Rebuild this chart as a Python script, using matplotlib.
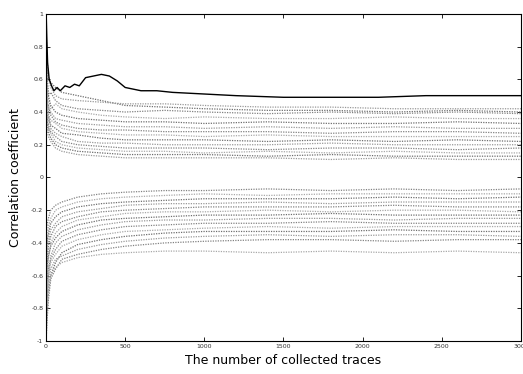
import matplotlib
matplotlib.use('Agg')
import matplotlib.pyplot as plt

# 数据
x_pts = [1, 5, 15, 30, 60, 100, 200, 350, 500, 750, 1000, 1400, 1800, 2200, 2600, 3000]

# 正确密钥曲线（黑色实线）
key_x = [1, 5, 10, 20, 35, 50, 70, 90, 120, 150, 180, 210, 250, 300, 350, 400, 450, 500,
         600, 700, 800, 1000, 1200, 1500, 1800, 2100, 2400, 2700, 3000]
key_y = [1.0, 0.85, 0.7, 0.6, 0.56, 0.53, 0.55, 0.53, 0.56, 0.55, 0.57, 0.56, 0.61, 0.62,
         0.63, 0.62, 0.59, 0.55, 0.53, 0.53, 0.52, 0.51, 0.50, 0.49, 0.49, 0.49, 0.50, 0.50, 0.50]

# 错误密钥曲线（灰色点线）—— 正相关带
upper = [
    [0.95, 0.70, 0.60, 0.58, 0.55, 0.52, 0.50, 0.47, 0.44, 0.43, 0.42, 0.41, 0.41, 0.40, 0.41, 0.40],
    [0.90, 0.75, 0.62, 0.55, 0.50, 0.48, 0.47, 0.46, 0.45, 0.45, 0.44, 0.43, 0.43, 0.42, 0.42, 0.42],
    [0.70, 0.60, 0.50, 0.52, 0.47, 0.44, 0.42, 0.41, 0.40, 0.41, 0.40, 0.39, 0.40, 0.39, 0.40, 0.39],
    [0.85, 0.55, 0.48, 0.42, 0.45, 0.42, 0.40, 0.38, 0.37, 0.36, 0.37, 0.36, 0.36, 0.37, 0.36, 0.36],
    [0.60, 0.65, 0.50, 0.44, 0.40, 0.38, 0.36, 0.35, 0.34, 0.34, 0.33, 0.34, 0.33, 0.33, 0.34, 0.33],
    [0.75, 0.50, 0.42, 0.40, 0.36, 0.35, 0.33, 0.32, 0.31, 0.31, 0.30, 0.31, 0.30, 0.31, 0.30, 0.30],
    [0.50, 0.45, 0.44, 0.38, 0.34, 0.32, 0.30, 0.29, 0.29, 0.28, 0.28, 0.28, 0.27, 0.28, 0.28, 0.27],
    [0.80, 0.60, 0.38, 0.35, 0.33, 0.30, 0.28, 0.27, 0.26, 0.26, 0.25, 0.26, 0.25, 0.25, 0.25, 0.25],
    [0.55, 0.40, 0.36, 0.32, 0.30, 0.27, 0.26, 0.24, 0.23, 0.23, 0.23, 0.22, 0.23, 0.22, 0.23, 0.22],
    [0.65, 0.50, 0.40, 0.30, 0.27, 0.25, 0.22, 0.21, 0.21, 0.20, 0.20, 0.20, 0.21, 0.20, 0.20, 0.20],
    [0.45, 0.38, 0.32, 0.28, 0.25, 0.22, 0.20, 0.19, 0.18, 0.18, 0.18, 0.17, 0.18, 0.18, 0.17, 0.18],
    [0.70, 0.42, 0.30, 0.27, 0.22, 0.20, 0.18, 0.17, 0.16, 0.16, 0.15, 0.16, 0.15, 0.16, 0.15, 0.15],
    [0.40, 0.35, 0.28, 0.24, 0.20, 0.18, 0.16, 0.15, 0.14, 0.14, 0.14, 0.13, 0.14, 0.13, 0.13, 0.13],
    [0.60, 0.30, 0.25, 0.22, 0.18, 0.16, 0.14, 0.13, 0.12, 0.12, 0.12, 0.12, 0.11, 0.12, 0.11, 0.11],
]

# 错误密钥曲线 —— 负相关带
lower = [
    [-0.60, -0.30, -0.25, -0.20, -0.17, -0.15, -0.12, -0.10, -0.09, -0.08, -0.08, -0.07, -0.08, -0.07, -0.08, -0.07],
    [-0.80, -0.45, -0.30, -0.25, -0.20, -0.18, -0.15, -0.13, -0.12, -0.11, -0.10, -0.11, -0.10, -0.10, -0.10, -0.10],
    [-0.50, -0.40, -0.35, -0.28, -0.24, -0.21, -0.18, -0.16, -0.15, -0.14, -0.13, -0.13, -0.13, -0.12, -0.13, -0.12],
    [-0.90, -0.60, -0.40, -0.32, -0.28, -0.24, -0.21, -0.19, -0.17, -0.16, -0.16, -0.15, -0.16, -0.15, -0.15, -0.15],
    [-0.70, -0.50, -0.42, -0.36, -0.30, -0.27, -0.24, -0.21, -0.20, -0.19, -0.18, -0.18, -0.18, -0.17, -0.18, -0.18],
    [-0.95, -0.70, -0.50, -0.40, -0.34, -0.30, -0.26, -0.24, -0.22, -0.21, -0.21, -0.20, -0.21, -0.20, -0.20, -0.21],
    [-0.65, -0.55, -0.48, -0.42, -0.37, -0.33, -0.29, -0.26, -0.25, -0.24, -0.23, -0.23, -0.22, -0.23, -0.23, -0.23],
    [-1.00, -0.80, -0.60, -0.48, -0.40, -0.36, -0.32, -0.29, -0.27, -0.26, -0.26, -0.25, -0.25, -0.26, -0.25, -0.25],
    [-0.85, -0.65, -0.55, -0.50, -0.44, -0.39, -0.35, -0.32, -0.30, -0.29, -0.28, -0.28, -0.27, -0.28, -0.28, -0.28],
    [-0.75, -0.70, -0.60, -0.52, -0.47, -0.42, -0.38, -0.35, -0.33, -0.32, -0.31, -0.30, -0.31, -0.30, -0.30, -0.30],
    [-0.98, -0.85, -0.70, -0.60, -0.52, -0.46, -0.41, -0.38, -0.36, -0.34, -0.33, -0.33, -0.33, -0.32, -0.33, -0.33],
    [-0.90, -0.75, -0.65, -0.56, -0.50, -0.48, -0.44, -0.41, -0.39, -0.37, -0.36, -0.35, -0.36, -0.35, -0.35, -0.36],
    [-1.00, -0.90, -0.75, -0.62, -0.56, -0.50, -0.47, -0.44, -0.42, -0.40, -0.39, -0.38, -0.38, -0.39, -0.38, -0.38],
    [-0.95, -0.80, -0.70, -0.60, -0.55, -0.52, -0.49, -0.47, -0.46, -0.45, -0.45, -0.46, -0.45, -0.46, -0.45, -0.46],
]

x_ticks = [0, 500, 1000, 1500, 2000, 2500, 3000]
y_ticks = [1, 0.8, 0.6, 0.4, 0.2, 0, -0.2, -0.4, -0.6, -0.8, -1]
y_tick_labels = ['1', '0.8', '0.6', '0.4', '0.2', '0', '-0.2', '-0.4', '-0.6', '-0.8', '-1']

# 画布
fig = plt.figure(figsize=(5.23, 3.74), dpi=100)
ax = fig.add_axes([0.088, 0.088, 0.908, 0.875])

grays = ['#6e6e6e', '#999999', '#828282', '#a8a8a8']
for i, ys in enumerate(upper + lower):
    ax.plot(x_pts, ys, color=grays[i % len(grays)], lw=0.9, linestyle=(0, (1, 1)))

ax.plot(key_x, key_y, color='black', lw=1.0)

ax.set_xlim(0, 3000)
ax.set_ylim(-1, 1)
ax.set_xticks(x_ticks)
ax.set_xticklabels([str(t) for t in x_ticks])
ax.set_yticks(y_ticks)
ax.set_yticklabels(y_tick_labels)
ax.tick_params(direction='in', length=3, width=0.6, labelsize=4.5, top=True, right=True, pad=2,
               labelcolor='#333333')
for s in ax.spines.values():
    s.set_linewidth(0.8)

ax.set_ylabel('Correlation coefficient', fontsize=9)
ax.set_xlabel('The number of collected traces', fontsize=9)
ax.yaxis.set_label_coords(-0.05, 0.5)
ax.xaxis.set_label_coords(0.5, -0.04)

fig.savefig('out.png', dpi=100)
